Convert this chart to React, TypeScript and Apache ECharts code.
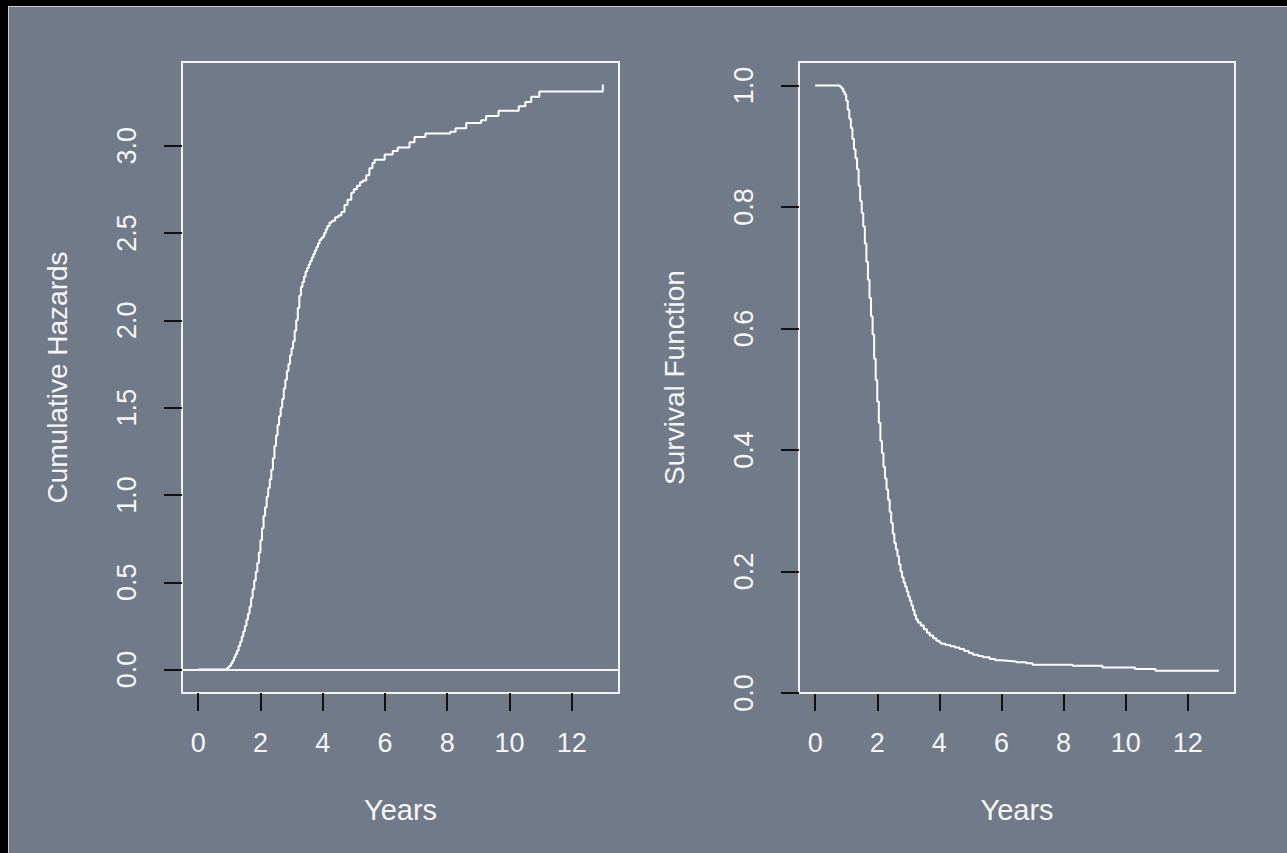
import React, { useEffect, useRef } from "react";
import * as echarts from "echarts";

// Cumulative hazard step function (years, value)
const hazardTimes = [0, 0.85, 0.9, 0.95, 1.0, 1.05, 1.1, 1.15, 1.2, 1.25, 1.3, 1.35, 1.4, 1.45, 1.5, 1.55, 1.6, 1.65, 1.7, 1.75, 1.8, 1.85, 1.9, 1.95, 2.0, 2.05, 2.1, 2.15, 2.2, 2.25, 2.3, 2.35, 2.4, 2.45, 2.5, 2.55, 2.6, 2.65, 2.7, 2.75, 2.8, 2.85, 2.9, 2.95, 3.0, 3.05, 3.1, 3.15, 3.2, 3.25, 3.3, 3.35, 3.4, 3.45, 3.5, 3.55, 3.6, 3.65, 3.7, 3.75, 3.8, 3.85, 3.9, 3.95, 4.0, 4.05, 4.1, 4.15, 4.22, 4.3, 4.4, 4.5, 4.6, 4.7, 4.8, 4.92, 5.0, 5.1, 5.2, 5.29, 5.4, 5.5, 5.6, 5.67, 5.99, 6.25, 6.41, 6.79, 6.95, 7.3, 8.1, 8.27, 8.61, 9.09, 9.25, 9.65, 10.3, 10.51, 10.7, 10.96, 13.0];
const hazardValues = [0, 0, 0.005, 0.012, 0.02, 0.035, 0.05, 0.07, 0.09, 0.11, 0.135, 0.16, 0.19, 0.22, 0.25, 0.285, 0.32, 0.36, 0.41, 0.46, 0.51, 0.56, 0.61, 0.67, 0.74, 0.81, 0.88, 0.93, 0.99, 1.04, 1.09, 1.145, 1.21, 1.28, 1.34, 1.4, 1.45, 1.5, 1.55, 1.61, 1.66, 1.71, 1.75, 1.8, 1.84, 1.88, 1.94, 2.0, 2.07, 2.14, 2.19, 2.22, 2.25, 2.28, 2.3, 2.32, 2.34, 2.36, 2.38, 2.4, 2.42, 2.44, 2.46, 2.47, 2.48, 2.5, 2.52, 2.54, 2.56, 2.57, 2.59, 2.6, 2.62, 2.66, 2.69, 2.73, 2.75, 2.77, 2.79, 2.8, 2.83, 2.87, 2.9, 2.92, 2.95, 2.97, 2.99, 3.02, 3.05, 3.07, 3.08, 3.1, 3.13, 3.145, 3.17, 3.2, 3.225, 3.25, 3.28, 3.31, 3.35];

// Survival function step function (years, value)
const survivalTimes = [0, 0.75, 0.8, 0.85, 0.9, 0.95, 1.0, 1.05, 1.1, 1.15, 1.2, 1.25, 1.3, 1.35, 1.4, 1.45, 1.5, 1.55, 1.6, 1.65, 1.7, 1.75, 1.8, 1.85, 1.9, 1.95, 2.0, 2.05, 2.1, 2.15, 2.2, 2.25, 2.3, 2.35, 2.4, 2.45, 2.5, 2.55, 2.6, 2.65, 2.7, 2.75, 2.8, 2.85, 2.9, 2.95, 3.0, 3.05, 3.1, 3.15, 3.2, 3.25, 3.31, 3.4, 3.5, 3.6, 3.69, 3.8, 3.9, 4.0, 4.06, 4.2, 4.35, 4.5, 4.65, 4.8, 4.95, 5.08, 5.25, 5.4, 5.62, 5.8, 5.99, 6.2, 6.47, 6.8, 7.0, 8.29, 9.25, 10.3, 10.96, 13.0];
const survivalValues = [1.0, 1.0, 0.998, 0.995, 0.99, 0.985, 0.975, 0.96, 0.945, 0.93, 0.912, 0.895, 0.88, 0.862, 0.835, 0.81, 0.79, 0.768, 0.74, 0.71, 0.68, 0.65, 0.62, 0.59, 0.55, 0.515, 0.48, 0.445, 0.415, 0.395, 0.372, 0.353, 0.335, 0.318, 0.298, 0.28, 0.262, 0.247, 0.236, 0.225, 0.212, 0.2, 0.19, 0.182, 0.175, 0.167, 0.159, 0.152, 0.144, 0.136, 0.128, 0.121, 0.116, 0.111, 0.105, 0.099, 0.0945, 0.09, 0.086, 0.083, 0.081, 0.079, 0.077, 0.075, 0.0725, 0.069, 0.066, 0.063, 0.061, 0.059, 0.056, 0.054, 0.053, 0.052, 0.0505, 0.049, 0.0467, 0.045, 0.042, 0.0395, 0.0368, 0.0368];

const xTicks = [0, 2, 4, 6, 8, 10, 12];
const hazardTicks = [0, 0.5, 1.0, 1.5, 2.0, 2.5, 3.0];
const survivalTicks = [0, 0.2, 0.4, 0.6, 0.8, 1.0];

const xLabel = "Years";
const hazardLabel = "Cumulative Hazards";
const survivalLabel = "Survival Function";

const FONT = "'Liberation Sans', Arial, Helvetica, sans-serif";
const TEXT = "#f6f6f6";
const BG = "#717a89";

export default function App() {
  const ref = useRef<HTMLDivElement>(null);

  useEffect(() => {
    if (!ref.current) return;
    const chart = echarts.init(ref.current, null, { renderer: "svg" });

    const xAxisBase = (gridIndex: number) => ({
      type: "value",
      gridIndex,
      min: -0.52,
      max: 13.52,
      name: xLabel,
      nameLocation: "middle",
      nameGap: 102,
      nameTextStyle: { color: TEXT, fontSize: 29, fontFamily: FONT },
      axisLine: { show: false, onZero: false },
      splitLine: { show: false },
      axisTick: {
        show: true,
        inside: false,
        length: 18,
        customValues: xTicks,
        lineStyle: { color: "#111", width: 2 },
      },
      axisLabel: {
        show: true,
        customValues: xTicks,
        margin: 36,
        color: TEXT,
        fontSize: 27,
        fontFamily: FONT,
        formatter: (v: number) => String(v),
      },
    });

    const yAxisBase = (gridIndex: number, min: number, max: number, ticks: number[], name: string) => ({
      type: "value",
      gridIndex,
      min,
      max,
      name,
      nameLocation: "middle",
      nameGap: 111,
      nameTextStyle: { color: TEXT, fontSize: 28, fontFamily: FONT },
      axisLine: { show: false, onZero: false },
      splitLine: { show: false },
      axisTick: {
        show: true,
        inside: false,
        length: 18,
        customValues: ticks,
        lineStyle: { color: "#111", width: 2 },
      },
      axisLabel: {
        show: true,
        customValues: ticks,
        rotate: 90,
        margin: 42,
        color: TEXT,
        fontSize: 27,
        fontFamily: FONT,
        formatter: (v: number) => v.toFixed(1),
      },
    });

    const zeroLine = {
      silent: true,
      symbol: "none",
      label: { show: false },
      lineStyle: { color: "#f4f4f4", width: 2, type: "solid" },
      data: [{ yAxis: 0 }],
    };

    chart.setOption({
      animation: false,
      backgroundColor: "transparent",
      grid: [
        { left: 182, top: 62, width: 437, height: 631, show: true, borderColor: "#f4f4f4", borderWidth: 2, backgroundColor: "transparent" },
        { left: 799, top: 62, width: 436, height: 631, show: true, borderColor: "#f4f4f4", borderWidth: 2, backgroundColor: "transparent" },
      ],
      xAxis: [xAxisBase(0), xAxisBase(1)],
      yAxis: [
        yAxisBase(0, -0.134, 3.479, hazardTicks, hazardLabel),
        yAxisBase(1, 0, 1.0386, survivalTicks, survivalLabel),
      ],
      series: [
        {
          type: "line",
          xAxisIndex: 0,
          yAxisIndex: 0,
          step: "end",
          showSymbol: false,
          lineStyle: { color: "#ffffff", width: 2 },
          data: hazardTimes.map((t, i) => [t, hazardValues[i]]),
          markLine: zeroLine,
        },
        {
          type: "line",
          xAxisIndex: 1,
          yAxisIndex: 1,
          step: "end",
          showSymbol: false,
          lineStyle: { color: "#ffffff", width: 2 },
          data: survivalTimes.map((t, i) => [t, survivalValues[i]]),
          markLine: zeroLine,
        },
      ],
    });

    return () => chart.dispose();
  }, []);

  return (
    <div style={{ position: "fixed", left: 0, top: 0, width: 1287, height: 853, background: "#000", overflow: "hidden" }}>
      <div
        style={{
          position: "absolute",
          left: 8,
          top: 6,
          right: 0,
          bottom: 0,
          background: BG,
          borderTop: "1px solid #c9ced6",
          borderLeft: "1px solid #c9ced6",
        }}
      />
      <div ref={ref} style={{ position: "absolute", left: 0, top: 0, width: 1287, height: 853 }} />
    </div>
  );
}
